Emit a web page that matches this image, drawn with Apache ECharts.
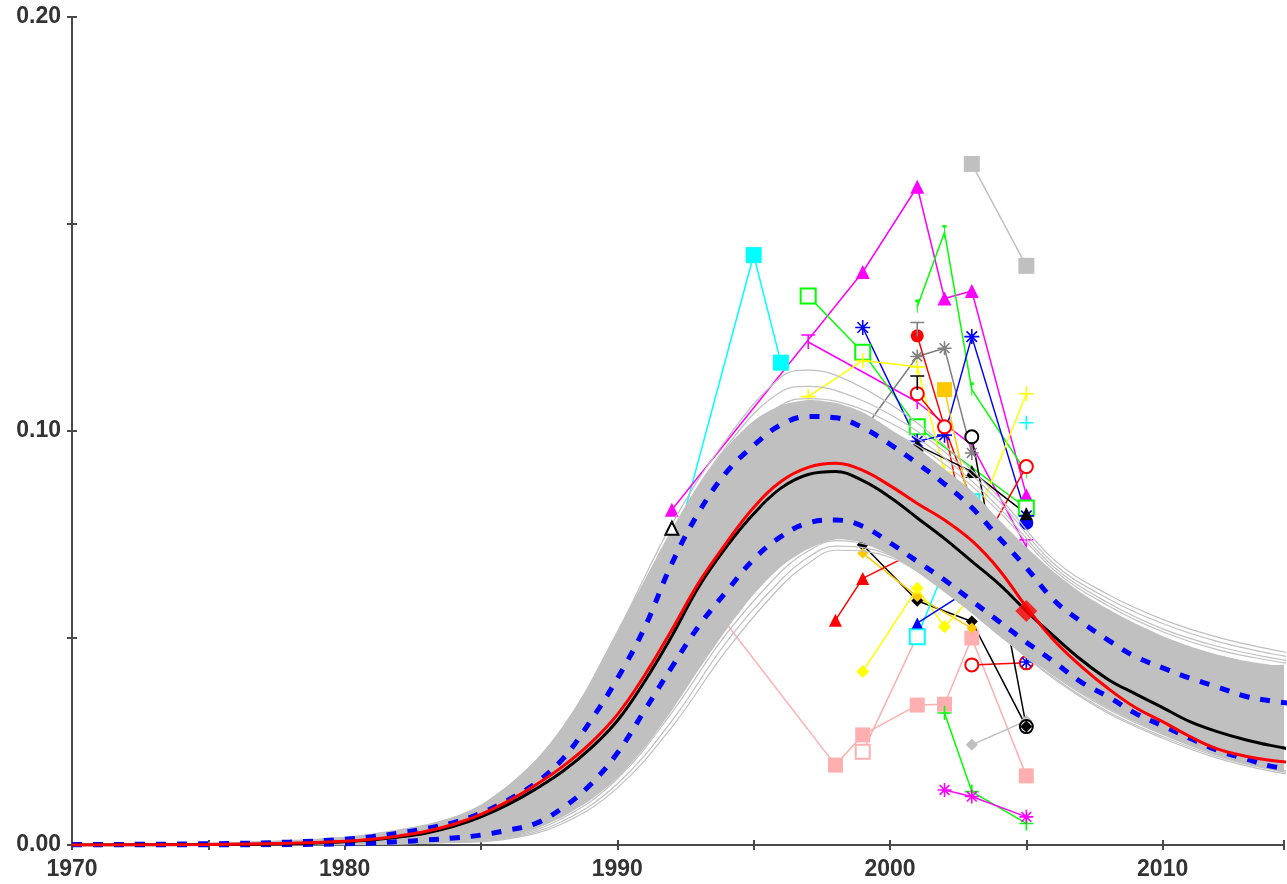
<!DOCTYPE html>
<html>
<head>
<meta charset="utf-8">
<script src="https://cdn.jsdelivr.net/npm/echarts@6/dist/echarts.min.js"></script>
<style>
html,body{margin:0;padding:0;background:#fff;}
#chart{width:1287px;height:884px;}
</style>
</head>
<body>
<div id="chart"></div>
<script>
// ---------- axis ticks ----------
const xTicksLabelled = [1970, 1980, 1990, 2000, 2010];
const yTicksLabelled = [0.00, 0.10, 0.20];

// ---------- fitted curves (year grid) ----------
const years = [1970,1975,1978,1980,1981,1982,1983,1984,1985,1986,1987,1988,1989,1990,1991,1992,1993,1994,1995,1996,1997,1998,1999,2000,2001,2002,2003,2004,2005,2006,2007,2008,2009,2010,2011,2012,2013,2014,2015];
const medianFit = [0,0.0001,0.0003,0.0008,0.0012,0.0019,0.0029,0.0045,0.0068,0.0098,0.0135,0.0178,0.0232,0.0300,0.0395,0.0505,0.0625,0.0720,0.0800,0.0862,0.0895,0.0902,0.0880,0.0840,0.0790,0.0740,0.0685,0.0630,0.0565,0.0505,0.0448,0.0400,0.0365,0.0332,0.0298,0.0274,0.0255,0.0240,0.0228];
const bestFit = [0,0.0001,0.0004,0.0009,0.0014,0.0022,0.0033,0.0050,0.0074,0.0106,0.0145,0.0190,0.0245,0.0315,0.0410,0.0520,0.0635,0.0730,0.0815,0.0878,0.0912,0.0922,0.0905,0.0868,0.0825,0.0785,0.0735,0.0665,0.0575,0.0495,0.0432,0.0378,0.0332,0.0298,0.0262,0.0232,0.0215,0.0204,0.0198];
const upperCI = [0.0001,0.0003,0.0007,0.0014,0.0020,0.0029,0.0040,0.0054,0.0077,0.0109,0.0149,0.0208,0.0298,0.0402,0.0525,0.0680,0.0805,0.0900,0.0965,0.1015,0.1035,0.1032,0.1008,0.0968,0.0922,0.0872,0.0815,0.0742,0.0670,0.0592,0.0540,0.0495,0.0455,0.0428,0.0403,0.0382,0.0360,0.0348,0.0340];
const lowerCI = [0,0,0.0001,0.0003,0.0005,0.0008,0.0012,0.0017,0.0024,0.0036,0.0052,0.0090,0.0145,0.0222,0.0325,0.0430,0.0530,0.0612,0.0690,0.0745,0.0778,0.0785,0.0770,0.0730,0.0685,0.0640,0.0590,0.0540,0.0490,0.0443,0.0394,0.0358,0.0318,0.0288,0.0258,0.0229,0.0209,0.0190,0.0183];
const bandUpper = [0.0002,0.0005,0.0010,0.0020,0.0028,0.0038,0.0050,0.0068,0.0098,0.0145,0.0205,0.0285,0.0390,0.0515,0.0640,0.0760,0.0870,0.0960,0.1025,0.1062,0.1075,0.1068,0.1045,0.1005,0.0960,0.0908,0.0855,0.0785,0.0720,0.0660,0.0610,0.0570,0.0535,0.0505,0.0480,0.0460,0.0445,0.0435,0.0428];
const bandLower = [0,0,0,0.0001,0.0002,0.0003,0.0005,0.0008,0.0012,0.0019,0.0038,0.0068,0.0108,0.0162,0.0235,0.0325,0.0425,0.0520,0.0605,0.0672,0.0715,0.0738,0.0730,0.0700,0.0660,0.0612,0.0560,0.0505,0.0455,0.0410,0.0368,0.0330,0.0297,0.0267,0.0240,0.0216,0.0196,0.0182,0.0174];

// ---------- individual simulated curves ----------
const simYears = [1970,1980,1984,1986,1988,1990,1992,1994,1996,1997,1998,2000,2002,2004,2006,2008,2010,2012,2014,2016];
const sim1 = [0,0.0018,0.0066,0.0142,0.0285,0.0515,0.0775,0.0980,0.1130,0.1147,0.1135,0.1065,0.0965,0.0840,0.0690,0.0605,0.0545,0.0502,0.0472,0.0450];
const sim2 = [0,0.0016,0.0062,0.0136,0.0275,0.0500,0.0760,0.0962,0.1095,0.1108,0.1098,0.1040,0.0950,0.0830,0.0680,0.0595,0.0535,0.0492,0.0462,0.0440];
const sim3 = [0,0.0014,0.0058,0.0130,0.0265,0.0485,0.0740,0.0940,0.1062,0.1078,0.1072,0.1020,0.0935,0.0815,0.0672,0.0585,0.0522,0.0480,0.0452,0.0432];
const sim4 = [0,0.0012,0.0054,0.0122,0.0250,0.0460,0.0710,0.0910,0.1035,0.1052,0.1048,0.1000,0.0920,0.0805,0.0665,0.0578,0.0515,0.0472,0.0445,0.0425];
const sim5 = [0,0.0001,0.0008,0.0019,0.0065,0.0160,0.0320,0.0510,0.0660,0.0710,0.0735,0.0705,0.0620,0.0515,0.0410,0.0328,0.0267,0.0218,0.0186,0.0165];
const sim6 = [0,0.0001,0.0007,0.0017,0.0058,0.0148,0.0300,0.0490,0.0640,0.0695,0.0722,0.0700,0.0615,0.0510,0.0405,0.0322,0.0262,0.0214,0.0182,0.0162];
const sim7 = [0,0.0001,0.0006,0.0015,0.0052,0.0138,0.0285,0.0470,0.0625,0.0680,0.0712,0.0695,0.0612,0.0508,0.0402,0.0318,0.0258,0.0210,0.0178,0.0158];

// ---------- observed site data [year, prevalence] ----------
const obsCyanSq = [[1992,0.069],[1995,0.1425],[1996,0.1165]];
const obsMagTri = [[1992,0.081],[1999,0.1384],[2001,0.159],[2002,0.132],[2003,0.1338],[2005,0.0845]];
const obsMagBar = [[1997,0.1215],[2001,0.107],[2003,0.0966],[2005,0.072]];
const obsGreenOpenSq = [[1997,0.1326],[1999,0.119],[2001,0.101],[2005,0.0814]];
const obsGreenTick = [[2001,0.130],[2002,0.148],[2003,0.110],[2005,0.090]];
const obsGreenPlus = [[2002,0.0319],[2003,0.0129],[2005,0.0052]];
const obsMagStar = [[2002,0.0133],[2003,0.0117],[2005,0.0068]];
const obsPinkSq = [[1993,0.062],[1998,0.0193],[1999,0.0266],[2001,0.0338],[2002,0.0340],[2003,0.050],[2005,0.0167]];
const obsPinkOpenSq = [[1999,0.0225],[2001,0.0505]];
const obsGraySq = [[2003,0.1645],[2005,0.1399]];
const obsGrayDiamond = [[2003,0.0242],[2005,0.0300]];
const obsGrayStar = [[1999,0.100],[2001,0.118],[2002,0.120],[2003,0.0947]];
const obsRedDot = [[2001,0.123],[2002,0.101],[2003,0.083]];
const obsBlueStar = [[1999,0.125],[2001,0.0975],[2002,0.099],[2003,0.1228],[2005,0.0795]];
const obsBlueDot = [[2005,0.0778]];
const obsYellowPlus = [[1997,0.1083],[1999,0.117],[2001,0.1155],[2002,0.090],[2003,0.076],[2005,0.109]];
const obsCyanPlus = [[2005,0.102]];
const obsRedRing = [[2001,0.109],[2002,0.101],[2003,0.068],[2005,0.0914]];
const obsRedRingLow = [[2003,0.0435],[2005,0.0440]];
const obsOrangeSq = [[2002,0.110],[2003,0.080]];
const obsBlackRing = [[2003,0.0986],[2005,0.0286]];
const obsBlackTri = [[2001,0.0966],[2003,0.0902],[2005,0.080]];
const obsBlackOpenTri = [[1992,0.0765]];
const obsOrangeDiamond = [[1999,0.0705],[2001,0.0600],[2003,0.0524]];
const obsBlackDiamond = [[1999,0.0725],[2001,0.0590],[2003,0.0540],[2005,0.0286]];
const obsRedTri = [[1998,0.0543],[1999,0.0644],[2001,0.0710],[2003,0.066]];
const obsYellowDiamond = [[1999,0.0419],[2001,0.0620],[2002,0.0527],[2003,0.060]];
const obsCyanOpenSq = [[2001,0.0503],[2003,0.0829]];
const obsBlueTri = [[2001,0.0536],[2003,0.062]];
const obsBlueStarLow = [[2005,0.0442]];
const obsBlackBar = [[2001,0.1116]];
const obsGrayBar = [[2001,0.1245]];
const fitPoint = [[2005,0.0565]];

// ---------- styling ----------
const SYM = {
  plus: 'path://M0,5H10M5,0V10',
  star: 'path://M0,5H10M5,0V10M1.5,1.5L8.5,8.5M8.5,1.5L1.5,8.5',
  bar: 'path://M0,0H10M5,0V10',
  tick: 'path://M4,0H6M5,0V10'
};
const AXIS_COLOR = '#4a4a4a';
const FONT = { fontFamily: '"Liberation Sans", Arial, sans-serif', fontWeight: 'bold', fontSize: 23, color: '#333' };

function pairs(xs, ys) { return xs.map((x, i) => [x, ys[i]]); }

function obs(data, color, symbol, size, zTop) {
  const stroked = symbol.startsWith('path://');
  return {
    type: 'line', data: data, z: zTop ? 5 : 1, silent: true,
    symbol: symbol, symbolSize: size, showSymbol: true, showAllSymbol: true,
    lineStyle: { color: color, width: 1.5 },
    itemStyle: stroked
      ? { color: 'rgba(0,0,0,0)', borderColor: color, borderWidth: 1.6 }
      : (symbol.startsWith('empty')
          ? { color: color, borderColor: color, borderWidth: 1.6 }
          : { color: color, borderWidth: 0 }),
    emphasis: { disabled: true }
  };
}

function simLine(ys) {
  return {
    type: 'line', data: pairs(simYears, ys), z: 2, silent: true,
    smooth: 0.4, showSymbol: false,
    lineStyle: { color: '#c0c0c0', width: 1.2 }
  };
}

function fitLine(ys, color, width, dash) {
  return {
    type: 'line', data: pairs(years, ys), z: 3, silent: true,
    smooth: 0.4, showSymbol: false,
    lineStyle: { color: color, width: width, type: dash ? [10, 11] : 'solid', cap: 'butt' }
  };
}

const series = [
  obs(obsPinkSq, '#FFAFAF', 'rect', 15),
  obs(obsPinkOpenSq, '#FFAFAF', 'emptyRect', 14),
  obs(obsCyanSq, '#00FFFF', 'rect', 16),
  obs(obsMagTri, '#FF00FF', 'triangle', 14),
  obs(obsMagBar, '#FF00FF', SYM.bar, 14),
  obs(obsGreenOpenSq, '#00FF00', 'emptyRect', 15),
  obs(obsGreenTick, '#00FF00', SYM.tick, [4, 12]),
  obs(obsGreenPlus, '#00FF00', SYM.plus, 14),
  obs(obsMagStar, '#FF00FF', SYM.star, 14),
  obs(obsGraySq, '#C0C0C0', 'rect', 16),
  obs(obsGrayDiamond, '#C0C0C0', 'diamond', 12),
  obs(obsGrayStar, '#808080', SYM.star, 14),
  obs(obsRedDot, '#FF0000', 'circle', 13),
  obs(obsBlueStar, '#0000FF', SYM.star, 15),
  obs(obsBlueDot, '#0000FF', 'circle', 14),
  obs(obsYellowPlus, '#FFFF00', SYM.plus, 15),
  obs(obsCyanPlus, '#00FFFF', SYM.plus, 14),
  obs(obsRedRing, '#FF0000', 'emptyCircle', 13),
  obs(obsRedRingLow, '#FF0000', 'emptyCircle', 13),
  obs(obsOrangeSq, '#FFC800', 'rect', 15),
  obs(obsBlackRing, '#000000', 'emptyCircle', 13),
  obs(obsBlackTri, '#000000', 'triangle', 13),
  obs(obsBlackOpenTri, '#000000', 'emptyTriangle', 13, true),
  obs(obsBlackDiamond, '#000000', 'diamond', 12),
  obs(obsOrangeDiamond, '#FFC800', 'diamond', 11),
  obs(obsRedTri, '#FF0000', 'triangle', 13),
  obs(obsYellowDiamond, '#FFFF00', 'diamond', 13),
  obs(obsCyanOpenSq, '#00FFFF', 'emptyRect', 15),
  obs(obsBlueTri, '#0000FF', 'triangle', 11),
  obs(obsBlueStarLow, '#0000FF', SYM.star, 13),
  obs(obsBlackBar, '#000000', SYM.bar, 14),
  obs(obsGrayBar, '#808080', SYM.bar, 14),
  {
    type: 'custom', z: 2, silent: true, clip: true,
    data: [[years[0], 0]],
    renderItem: function (params, api) {
      const pts = [];
      for (let i = 0; i < years.length; i++) pts.push(api.coord([years[i], bandUpper[i]]));
      for (let i = years.length - 1; i >= 0; i--) pts.push(api.coord([years[i], bandLower[i]]));
      return { type: 'polygon', shape: { points: pts, smooth: 0.25 }, style: { fill: '#c0c0c0' } };
    }
  },
  simLine(sim1), simLine(sim2), simLine(sim3), simLine(sim4),
  simLine(sim5), simLine(sim6), simLine(sim7),
  fitLine(upperCI, '#0000FF', 5, true),
  fitLine(lowerCI, '#0000FF', 5, true),
  fitLine(medianFit, '#000000', 3, false),
  fitLine(bestFit, '#FF0000', 3, false),
  {
    type: 'scatter', data: fitPoint, z: 4, silent: true,
    symbol: 'diamond', symbolSize: 22, itemStyle: { color: '#FF0000' }
  }
];

const xBase = { type: 'value', min: 1970, max: 2014.45, interval: 5, position: 'bottom', splitLine: { show: false } };
const yBase = { type: 'value', min: 0, max: 0.2, interval: 0.05, position: 'left', splitLine: { show: false } };

const option = {
  animation: false,
  backgroundColor: '#ffffff',
  grid: { left: 72, right: 0, top: 17, bottom: 39, containLabel: false },
  xAxis: [
    Object.assign({}, xBase, {
      axisLine: { show: true, lineStyle: { color: AXIS_COLOR, width: 2 } },
      axisTick: { show: true, inside: false, length: 5, lineStyle: { color: AXIS_COLOR, width: 2 } },
      axisLabel: Object.assign({ margin: 13, formatter: v => xTicksLabelled.includes(Math.round(v * 100) / 100) ? String(v) : '' }, FONT)
    }),
    Object.assign({}, xBase, {
      axisLine: { show: false },
      axisTick: { show: true, inside: true, length: 5, lineStyle: { color: AXIS_COLOR, width: 2 } },
      axisLabel: { show: false }
    })
  ],
  yAxis: [
    Object.assign({}, yBase, {
      axisLine: { show: true, lineStyle: { color: AXIS_COLOR, width: 2 } },
      axisTick: { show: true, inside: false, length: 5, lineStyle: { color: AXIS_COLOR, width: 2 } },
      axisLabel: Object.assign({ margin: 11, formatter: v => yTicksLabelled.some(t => Math.abs(t - v) < 1e-9) ? v.toFixed(2) : '' }, FONT)
    }),
    Object.assign({}, yBase, {
      axisLine: { show: false },
      axisTick: { show: true, inside: true, length: 5, lineStyle: { color: AXIS_COLOR, width: 2 } },
      axisLabel: { show: false }
    })
  ],
  series: series
};

const chart = echarts.init(document.getElementById('chart'), null, { renderer: 'canvas' });
chart.setOption(option);
</script>
</body>
</html>
